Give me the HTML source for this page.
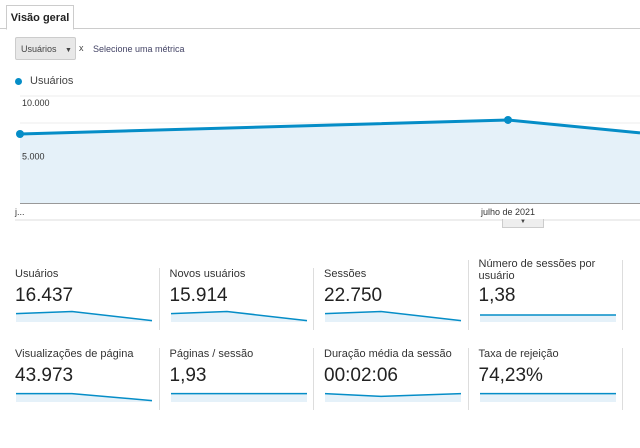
<!DOCTYPE html>
<html><head><meta charset="utf-8"><style>
body{margin:0;width:640px;height:448px;background:#fff;font-family:"Liberation Sans",sans-serif;position:relative;overflow:hidden;color:#222}
.abs{position:absolute}
.lbl{font-size:11px;color:#333;line-height:12px}
.val{font-size:19px;color:#222}
.sep{position:absolute;width:1px;background:#ddd}
</style></head><body>
<div class="abs" style="left:0;top:28px;width:640px;height:1px;background:#ccc"></div>
<div class="abs" style="left:6px;top:5px;width:66px;height:23px;border:1px solid #ccc;border-bottom:1px solid #fff;background:#fff;font-size:11px;font-weight:bold;line-height:24px;text-align:center">Visão geral</div>
<div class="abs" style="left:15px;top:37px;width:59px;height:23px;background:#e8e8e8;border:1px solid #ccc;border-radius:2px;font-size:9px;color:#444;line-height:23px;padding-left:5px;box-sizing:border-box;width:61px">Usuários <span style="font-size:7px;margin-left:6px">▼</span></div>
<div class="abs" style="left:79px;top:43px;font-size:9px;color:#444">x</div>
<div class="abs" style="left:93px;top:44px;font-size:9px;color:#446">Selecione uma métrica</div>
<div class="abs" style="left:15px;top:78px;width:7px;height:7px;border-radius:50%;background:#058dc7"></div>
<div class="abs" style="left:30px;top:75px;font-size:11px;color:#444">Usuários</div>
<svg class="abs" style="left:0;top:0" width="640" height="240" id="main"></svg>
<div class="abs" style="left:502px;top:219px;width:40px;height:8px;background:#eee;border:1px solid #ccc;border-top:none;font-size:6px;text-align:center;line-height:7px;color:#444">▼</div>

<div class="sep" style="left:159px;top:268px;height:62px"></div>
<div class="sep" style="left:313px;top:268px;height:62px"></div>
<div class="sep" style="left:468px;top:260px;height:70px"></div>
<div class="sep" style="left:622px;top:260px;height:70px"></div>
<div class="sep" style="left:159px;top:348px;height:62px"></div>
<div class="sep" style="left:313px;top:348px;height:62px"></div>
<div class="sep" style="left:468px;top:348px;height:62px"></div>
<div class="sep" style="left:622px;top:348px;height:62px"></div>
<div id="cards"></div>
<script>
const dates=["j...","julho de 2021",""];
const users=[6450,7760,6550];
const yTicks=[10000,5000];
const yTickLabels=["10.000","5.000"];
const ns="http://www.w3.org/2000/svg";
const xs=[20,508,640];
function yS(v){return 203-v*0.0107;}
const svg=document.getElementById('main');
function mk(t,a){const e=document.createElementNS(ns,t);for(const k in a)e.setAttribute(k,a[k]);svg.appendChild(e);return e;}
[96,123,150,176].forEach(y=>{const l=mk('line',{x1:20,x2:640,y1:y,y2:y,stroke:'#eee'});

});
let pts=users.map((v,i)=>xs[i]+','+yS(v)).join(' ');
const area=mk('polygon',{points:'20,203 '+pts+' 640,203',fill:'#e5f1f9'});


const ln=mk('polyline',{points:pts,fill:'none',stroke:'#058dc7','stroke-width':3});


users.slice(0,2).forEach((v,i)=>{const c=mk('circle',{cx:xs[i],cy:yS(v),r:4,fill:'#058dc7'});

});
yTicks.forEach((v,i)=>{const t=mk('text',{x:22,y:yS(v)+10,'font-size':9,fill:'#333'});t.textContent=yTickLabels[i];

});
const ax=mk('line',{x1:20,x2:640,y1:203.5,y2:203.5,stroke:'#999'});


mk('line',{x1:15,x2:640,y1:220,y2:220,stroke:'#ddd'});
const lx=[15,508];
[0,1].forEach(i=>{const t=mk('text',{x:lx[i],y:215,'font-size':9,fill:'#333','text-anchor':i?'middle':'start'});t.textContent=dates[i];

});

const cardLabels=["Usuários","Novos usuários","Sessões","Número de sessões por<br>usuário","Visualizações de página","Páginas / sessão","Duração média da sessão","Taxa de rejeição"];
const cardValues=["16.437","15.914","22.750","1,38","43.973","1,93","00:02:06","74,23%"];
const sparks=[[0.6,0.75,0.1],[0.6,0.75,0.1],[0.6,0.75,0.1],[0.5,0.5,0.5],[0.6,0.6,0.1],[0.6,0.6,0.6],[0.6,0.4,0.6],[0.6,0.6,0.6]];
const cards=document.getElementById('cards');
cardLabels.forEach((l,i)=>{
  const col=i%4,row=Math.floor(i/4);
  const x=15+col*154.5,y=row?348:268;
  const d=document.createElement('div');
  d.className='abs';d.style.left=x+'px';d.style.top=y+'px';d.style.width='140px';
  
  
  const lt=(i==3)?-10:0;
  d.innerHTML='<div class="lbl" style="position:absolute;top:'+lt+'px;white-space:nowrap">'+l+'</div><div class="val" style="position:absolute;top:17px">'+cardValues[i]+'</div>';
  const s=document.createElementNS(ns,'svg');s.setAttribute('width',138);s.setAttribute('height',22);
  s.style.position='absolute';s.style.left='1px';s.style.top='34px';
  const sx=[0,56,136];const sy=v=>20-v*14;
  const p=sparks[i].map((v,j)=>sx[j]+','+sy(v)).join(' ');
  const a=document.createElementNS(ns,'polygon');a.setAttribute('points','0,20 '+p+' 136,20');a.setAttribute('fill','#e5f1f9');s.appendChild(a);
  const pl=document.createElementNS(ns,'polyline');pl.setAttribute('points',p);pl.setAttribute('fill','none');pl.setAttribute('stroke','#058dc7');pl.setAttribute('stroke-width','1.5');s.appendChild(pl);
  
  
  d.appendChild(s);cards.appendChild(d);
});
</script>
</body></html>
